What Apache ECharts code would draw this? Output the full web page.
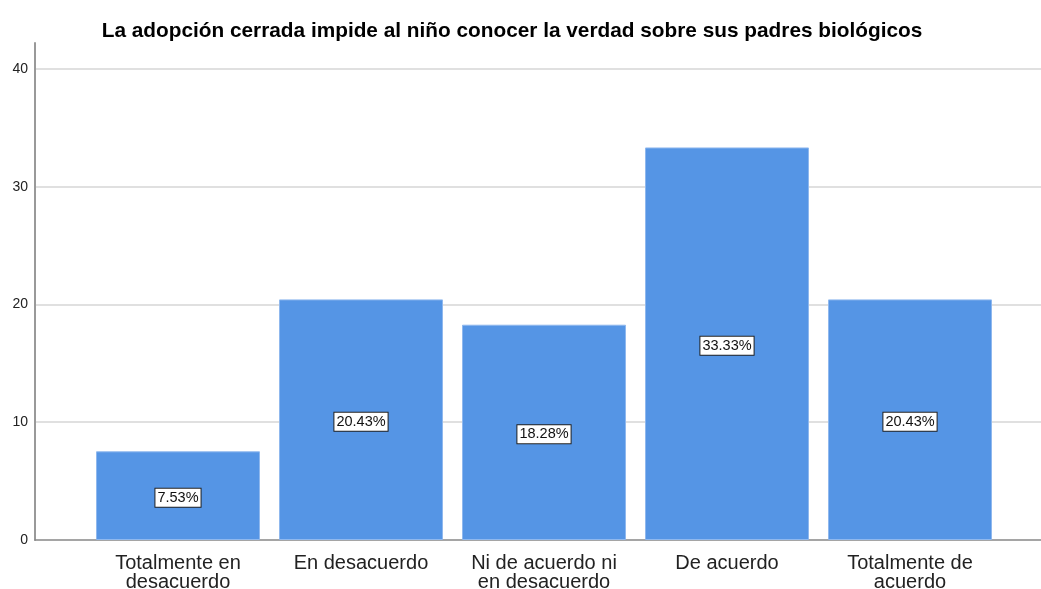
<!DOCTYPE html>
<html>
<head>
<meta charset="utf-8">
<script src="https://cdn.jsdelivr.net/npm/echarts@6/dist/echarts.min.js"></script>
<style>
  html, body { margin: 0; padding: 0; background: #fff; }
  #chart { width: 1041px; height: 589px; }
</style>
</head>
<body>
<div id="chart"></div>
<script>
// datos
var categorias = ["Totalmente en\ndesacuerdo", "En desacuerdo", "Ni de acuerdo ni\nen desacuerdo", "De acuerdo", "Totalmente de\nacuerdo"];
var porcentajes = [7.53, 20.43, 18.28, 33.33, 20.43];
var ticksY = [0, 10, 20, 30, 40];

var fuente = "Liberation Sans, Arial, sans-serif";
var myChart = echarts.init(document.getElementById("chart"));

var option = {
  backgroundColor: "#fff",
  animation: false,
  title: {
    text: "La adopción cerrada impide al niño conocer la verdad sobre sus padres biológicos",
    left: 507,
    top: 16,
    textAlign: "center",
    textStyle: { fontFamily: fuente, fontSize: 20.8, fontWeight: "bold", color: "#000" }
  },
  grid: [
    // fondo: lineas de la rejilla y ejes
    { left: 35, right: 0, top: 43, bottom: 49, outerBoundsMode: "none", containLabel: false },
    // barras
    { left: 86.5, width: 915, top: 43, bottom: 49, outerBoundsMode: "none", containLabel: false }
  ],
  xAxis: [
    {
      gridIndex: 0,
      type: "value",
      min: 0,
      max: 1,
      axisLine: { show: true, onZero: false, lineStyle: { color: "#888", width: 1.5 } },
      axisTick: { show: false },
      axisLabel: { show: false },
      splitLine: { show: false }
    },
    {
      gridIndex: 1,
      type: "category",
      data: categorias,
      axisLine: { show: false },
      axisTick: { show: false },
      axisLabel: {
        interval: 0,
        margin: 14,
        fontFamily: fuente,
        fontSize: 20,
        lineHeight: 19,
        color: "#222"
      }
    }
  ],
  yAxis: [
    {
      gridIndex: 0,
      type: "value",
      min: 0,
      max: 42.2,
      interval: 10,
      axisLine: { show: true, lineStyle: { color: "#999", width: 2 } },
      axisTick: { show: false },
      axisLabel: {
        showMaxLabel: false,
        margin: 7,
        fontFamily: fuente,
        fontSize: 14,
        color: "#222",
        formatter: function (v) { return ticksY.indexOf(v) >= 0 ? String(v) : ""; }
      },
      splitLine: { show: true, showMaxLine: false, showMinLine: false, lineStyle: { color: "#d6d6d6", width: 1.5 } }
    },
    {
      gridIndex: 1,
      type: "value",
      min: 0,
      max: 42.2,
      show: false,
      splitLine: { show: false }
    }
  ],
  series: [
    {
      type: "bar",
      xAxisIndex: 1,
      yAxisIndex: 1,
      data: porcentajes,
      barWidth: 164,
      itemStyle: { color: "#5595e5", borderColor: "#8fb8ee", borderWidth: 1 },
      label: {
        show: true,
        position: "inside",
        offset: [0, 2],
        formatter: function (p) { return p.value.toFixed(2) + "%"; },
        fontFamily: fuente,
        fontSize: 14.5,
        color: "#111",
        backgroundColor: "#fff",
        borderColor: "#222",
        borderWidth: 1,
        padding: [2, 2, 1, 2]
      }
    }
  ]
};

myChart.setOption(option);
</script>
</body>
</html>
